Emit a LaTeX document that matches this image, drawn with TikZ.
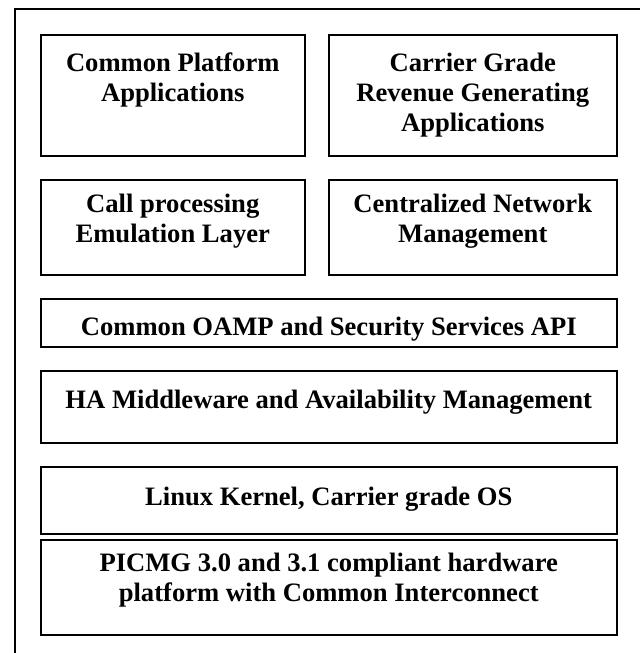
\documentclass[tikz,border=0pt]{standalone}
\usepackage{fontspec}
\setmainfont{Liberation Serif}
\usetikzlibrary{calc}
\begin{document}
\begin{tikzpicture}[x=1pt,y=-1pt,
  layer/.style={draw=black, line width=1.5pt, rectangle, inner sep=0pt, anchor=north west},
  txt/.style={anchor=north, inner sep=0pt, align=center, font=\fontsize{26.6}{30}\selectfont\bfseries}]
\useasboundingbox (0,0) rectangle (640,653);
\draw[line width=1.5pt] (15,653) coordinate (fa) -- (15,9) coordinate (fb) -- (640,9) coordinate (fc);
% row 1
\node[layer, minimum width=264pt, minimum height=121pt] (cpa) at (40,34) {};
\node[txt] (cpat) at ($(cpa.north)+(0,19)$) {Common Platform\\Applications};
\node[layer, minimum width=288pt, minimum height=121pt] (cgr) at (328,34) {};
\node[txt] (cgrt) at ($(cgr.north)+(0,19)$) {Carrier Grade\\Revenue Generating\\Applications};
% row 2
\node[layer, minimum width=264pt, minimum height=95pt] (cpe) at (40,179) {};
\node[txt] (cpet) at ($(cpe.north)+(0,15)$) {Call processing\\Emulation Layer};
\node[layer, minimum width=288pt, minimum height=95pt] (cnm) at (328,179) {};
\node[txt] (cnmt) at ($(cnm.north)+(0,15)$) {Centralized Network\\Management};
% full-width layers
\node[layer, minimum width=576pt, minimum height=48pt] (oamp) at (40,298) {};
\node[txt] (oampt) at ($(oamp.north)+(0,19)$) {Common OAMP and Security Services API};
\node[layer, minimum width=576pt, minimum height=72pt] (ha) at (40,370) {};
\node[txt] (hat) at ($(ha.north)+(0,20)$) {HA Middleware and Availability Management};
\node[layer, minimum width=576pt, minimum height=67pt] (lin) at (40,466) {};
\node[txt] (lint) at ($(lin.north)+(0,21)$) {Linux Kernel, Carrier grade OS};
\node[layer, minimum width=576pt, minimum height=95pt] (pic) at (40,539) {};
\node[txt] (pict) at ($(pic.north)+(0,14)$) {PICMG 3.0 and 3.1 compliant hardware\\platform with Common Interconnect};
\end{tikzpicture}
\end{document}
